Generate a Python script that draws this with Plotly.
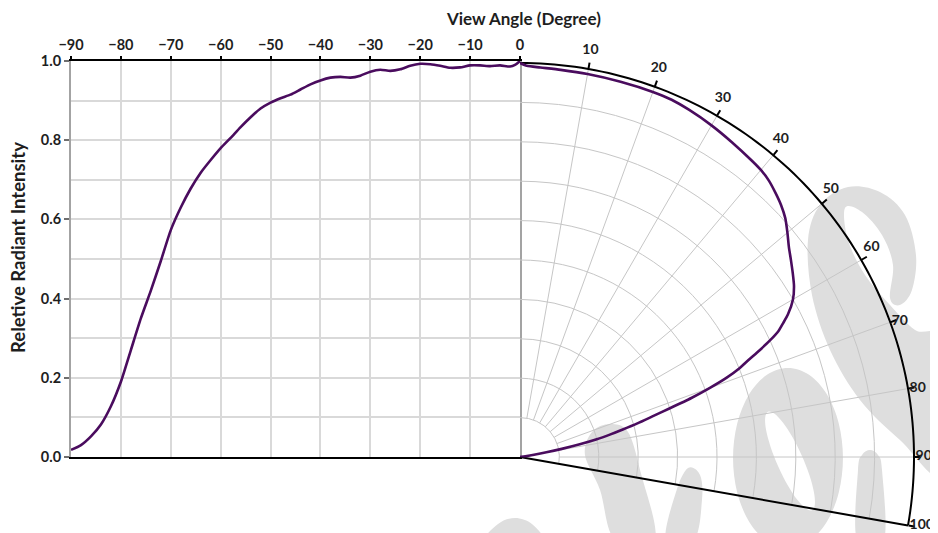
import math
import plotly.graph_objects as go

# ---------------- data ----------------
left_angles = [-90, -88, -86, -84, -82, -80, -78, -76, -74, -72, -70, -68, -66, -64, -62,
               -60, -58, -56, -54, -52, -50, -48, -46, -44, -42, -40, -38, -36, -34, -32,
               -30, -28, -26, -24, -22, -20, -18, -16, -14, -12, -10, -8, -6, -4, -2, -1, 0]
left_values = [0.018, 0.03, 0.052, 0.082, 0.128, 0.19, 0.27, 0.35, 0.42, 0.495, 0.573, 0.63,
               0.678, 0.718, 0.75, 0.78, 0.806, 0.833, 0.858, 0.88, 0.895, 0.906, 0.915,
               0.928, 0.941, 0.951, 0.958, 0.96, 0.958, 0.963, 0.973, 0.978, 0.975, 0.979,
               0.988, 0.993, 0.992, 0.988, 0.983, 0.984, 0.989, 0.989, 0.987, 0.989, 0.986,
               0.99, 1.0]

polar_angles = [0, 1, 3, 6, 10, 15, 20, 23, 26, 30, 34, 38, 40, 42, 44, 46, 48, 50, 52, 54,
                56, 58, 60, 62, 63, 64, 65, 66, 67, 68, 69, 70, 71, 72, 73, 74, 75, 76, 77,
                78, 79, 80, 81, 82, 83, 84, 90]
polar_values = [1.0, 0.993, 0.99, 0.988, 0.987, 0.986, 0.986, 0.985, 0.98, 0.972, 0.963,
                0.955, 0.951, 0.944, 0.933, 0.921, 0.906, 0.886, 0.866, 0.85, 0.835, 0.82,
                0.80, 0.77, 0.75, 0.73, 0.70, 0.665, 0.63, 0.60, 0.562, 0.513, 0.46, 0.40,
                0.35, 0.31, 0.27, 0.235, 0.20, 0.155, 0.108, 0.068, 0.036, 0.014, 0.004,
                0.0, 0.0]

x_ticks = [-90, -80, -70, -60, -50, -40, -30, -20, -10, 0]
y_ticks = [0.0, 0.2, 0.4, 0.6, 0.8, 1.0]
theta_ticks = [10, 20, 30, 40, 50, 60, 70, 80, 90, 100]
theta_labels = ["10", "20", "30", "40", "50", "60", "70", "80", "90", "100"]
spoke_ticks = [10, 20, 30, 40, 50, 60, 70, 80, 90]
ring_values = [0.1, 0.2, 0.3, 0.4, 0.5, 0.6, 0.7, 0.8, 0.9]
theta_span = [0, 100]
r_max = 1.0

title_text = "View Angle (Degree)"
ytitle_text = "Reletive Radiant Intensity"

# ---------------- style ----------------
OFF = 8                      # page body margin of the browser
PAGE_W, PAGE_H = 938, 533
W, H = PAGE_W - OFF, PAGE_H - OFF
PURPLE = "#4a0c5e"
FONT = "Lato"
TXT = "#1e1e1e"
GRID_C = "#d9d9d9"
PGRID_C = "#c6c6c6"
WM = "#dedede"


def px(x):
    return (x - OFF) / W


def py(y):
    return 1 - (y - OFF) / H


# polar geometry (page pixels): centre and radius of r = 1
CX, CY, R = 520, 457, 394
SIN10 = math.sin(math.radians(10))


def polar_domain(scale):
    rr = R * scale
    return dict(x=[px(CX), px(CX + rr)], y=[py(CY + rr * SIN10), py(CY - rr)])


EXT = 1.04   # outer overlay reaches a bit past r = 1 so labels/frame are not clipped

fig = go.Figure()

fig.add_trace(go.Scatter(
    x=left_angles, y=left_values, mode="lines",
    line=dict(color=PURPLE, width=2.6, shape="spline", smoothing=0.6),
    cliponaxis=False, hoverinfo="skip", showlegend=False))

# invisible traces so the grid-only polar subplots render
fig.add_trace(go.Scatterpolar(theta=[0], r=[0.5], mode="markers",
                              marker=dict(opacity=0), subplot="polar",
                              hoverinfo="skip", showlegend=False))
fig.add_trace(go.Scatterpolar(theta=[0], r=[0.5], mode="markers",
                              marker=dict(opacity=0), subplot="polar2",
                              hoverinfo="skip", showlegend=False))

# outer arc of the polar frame
arc_theta = list(range(theta_span[0], theta_span[1] + 1))
fig.add_trace(go.Scatterpolar(
    theta=arc_theta, r=[r_max] * len(arc_theta), mode="lines", subplot="polar3",
    line=dict(color="black", width=2), hoverinfo="skip", showlegend=False))

fig.add_trace(go.Scatterpolar(
    theta=polar_angles, r=polar_values, mode="lines", subplot="polar3",
    line=dict(color=PURPLE, width=2.6, shape="spline", smoothing=0.6),
    hoverinfo="skip", showlegend=False))

# angular tick labels (above near the top, to the right at the side, like the reference)
lab_pos = []
lab_r = []
for t in theta_ticks:
    if t <= 60:
        lab_pos.append("top center"); lab_r.append(r_max * 1.03)
    else:
        lab_pos.append("middle right"); lab_r.append(r_max * 1.004)
fig.add_trace(go.Scatterpolar(
    theta=theta_ticks, r=lab_r, mode="text", text=theta_labels, textposition=lab_pos,
    subplot="polar3", cliponaxis=False, hoverinfo="skip", showlegend=False,
    textfont=dict(family=FONT, size=14, color=TXT, weight="bold")))

tickfont = dict(family=FONT, size=14.5, color=TXT, weight="bold")

hidden_radial = dict(showgrid=False, showline=False, showticklabels=False, ticks="")
hidden_angular = dict(direction="clockwise", rotation=90, showgrid=False, showline=False,
                      showticklabels=False, ticks="")


# ---------------- watermark (decorative) ----------------
def smooth_path(pts):
    n = len(pts)
    d = "M %.4f,%.4f" % (px(pts[0][0]), py(pts[0][1]))
    for i in range(n):
        p0 = pts[(i - 1) % n]
        p1 = pts[i]
        p2 = pts[(i + 1) % n]
        p3 = pts[(i + 2) % n]
        c1 = (p1[0] + (p2[0] - p0[0]) / 6, p1[1] + (p2[1] - p0[1]) / 6)
        c2 = (p2[0] - (p3[0] - p1[0]) / 6, p2[1] - (p3[1] - p1[1]) / 6)
        d += " C %.4f,%.4f %.4f,%.4f %.4f,%.4f" % (px(c1[0]), py(c1[1]), px(c2[0]), py(c2[1]),
                                                    px(p2[0]), py(p2[1]))
    return d + " Z"


def ellipse_pts(cx, cy, a, b, ang):
    out = []
    ca, sa = math.cos(math.radians(ang)), math.sin(math.radians(ang))
    for k in range(16):
        t = 2 * math.pi * k / 16
        ex, ey = a * math.cos(t), b * math.sin(t)
        out.append((cx + ex * ca - ey * sa, cy + ex * sa + ey * ca))
    return out


wm_shapes = []
shapeA = [(808, 240), (820, 205), (848, 187), (880, 192), (905, 215), (916, 255), (912, 290),
          (900, 305), (890, 298), (893, 265), (882, 235), (862, 212), (845, 208), (848, 240),
          (865, 275), (890, 305), (915, 330), (945, 345), (945, 475), (900, 440), (860, 400),
          (830, 350), (812, 295)]
shapeB = ellipse_pts(788, 458, 55, 90, 0)
shapeB_hole = ellipse_pts(790, 461, 54, 13, 66)
shapeC = [(857, 540), (858, 470), (862, 455), (870, 450), (878, 455), (882, 470), (884, 540)]
shapeD1 = [(585, 455), (592, 432), (610, 424), (628, 432), (640, 470), (655, 540), (615, 540),
           (600, 490)]
shapeD2 = [(666, 540), (676, 492), (688, 468), (700, 475), (702, 500), (694, 540)]
shapeE = [(488, 540), (498, 524), (515, 518), (532, 524), (540, 540)]
for pts, col in [(shapeA, WM), (shapeB, WM), (shapeB_hole, "white"), (shapeC, WM),
                 (shapeD1, WM), (shapeD2, WM), (shapeE, WM)]:
    wm_shapes.append(dict(type="path", path=smooth_path(pts), xref="paper", yref="paper",
                          fillcolor=col, line=dict(width=0), layer="below"))

fig.update_layout(
    width=W, height=H,
    margin=dict(l=0, r=0, t=0, b=0),
    paper_bgcolor="white", plot_bgcolor="rgba(0,0,0,0)",
    showlegend=False,
    xaxis=dict(domain=[px(71), px(520)], range=[-90, 0], side="top", anchor="y",
               tickvals=x_ticks, ticks="outside", ticklen=3, tickcolor="black", tickwidth=1.5,
               showline=True, linecolor="black", linewidth=2, mirror=True,
               showgrid=True, gridcolor=GRID_C, gridwidth=1.5, zeroline=False,
               tickfont=tickfont, automargin=False, fixedrange=True),
    yaxis=dict(domain=[py(457), py(61)], range=[0, 1], anchor="x",
               tickvals=y_ticks, tickformat=".1f", ticks="outside", ticklen=5,
               tickcolor="#6e6e6e", tickwidth=1.5,
               showline=True, linecolor="#a3a3a3", linewidth=2, mirror=True,
               showgrid=True, gridcolor=GRID_C, gridwidth=1.5, zeroline=False,
               minor=dict(dtick=0.1, showgrid=True, gridcolor=GRID_C, gridwidth=1.5, ticks=""),
               tickfont=tickfont, automargin=False, fixedrange=True),
    # spokes, starting at r = 0.1
    polar=dict(domain=polar_domain(1.0), sector=[-10, 90], bgcolor="rgba(0,0,0,0)", hole=0.1,
               radialaxis=dict(range=[0.1, r_max], **hidden_radial),
               angularaxis=dict(direction="clockwise", rotation=90, tickvals=spoke_ticks,
                                showgrid=True, gridcolor=PGRID_C, gridwidth=1,
                                showline=False, showticklabels=False, ticks="")),
    # rings, the 100-degree edge and the outward ticks
    polar2=dict(domain=polar_domain(1.0), sector=[-10, 90], bgcolor="rgba(0,0,0,0)", hole=0,
                radialaxis=dict(range=[0, r_max], tickvals=ring_values, showgrid=True,
                                gridcolor=PGRID_C, gridwidth=1, showline=True,
                                linecolor="black", linewidth=2, showticklabels=False,
                                ticks=""),
                angularaxis=dict(direction="clockwise", rotation=90, tickvals=theta_ticks,
                                 showgrid=False, showline=False, showticklabels=False,
                                 ticks="outside", ticklen=6,
                                 tickcolor="black", tickwidth=1.5)),
    # frame arc, curve and labels (slightly larger range so nothing at r = 1 is clipped)
    polar3=dict(domain=polar_domain(EXT), sector=[-10, 90], bgcolor="rgba(0,0,0,0)", hole=0,
                radialaxis=dict(range=[0, r_max * EXT], **hidden_radial),
                angularaxis=hidden_angular),
    shapes=wm_shapes,
    annotations=[
        dict(text=title_text, x=px(523), y=py(18), xref="paper", yref="paper",
             showarrow=False, xanchor="center", yanchor="middle",
             font=dict(family=FONT, size=17, color=TXT, weight="bold")),
        dict(text=ytitle_text, x=px(18), y=py(248), xref="paper", yref="paper",
             showarrow=False, xanchor="center", yanchor="middle", textangle=-90,
             font=dict(family=FONT, size=18.5, color=TXT, weight="bold")),
    ],
)

fig.write_html("out.html")
